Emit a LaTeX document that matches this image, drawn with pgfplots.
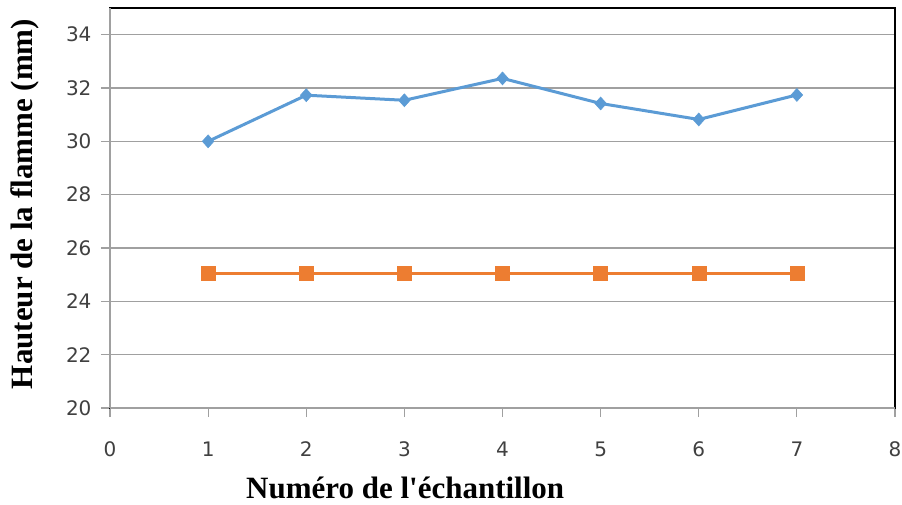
\documentclass[border=0pt]{standalone}
\usepackage{fontspec}
\newfontfamily\labelfont{Liberation Serif}
\newfontfamily\tickfont{DejaVu Sans}
\usepackage{pgfplots}
\pgfplotsset{compat=1.18}
\definecolor{exblue}{HTML}{5B9BD5}
\definecolor{exorange}{HTML}{ED7D31}
\definecolor{gridgray}{HTML}{A0A0A0}
\definecolor{ticktext}{HTML}{404040}
\begin{document}
\begin{tikzpicture}
\useasboundingbox (-110pt,-96pt) rectangle (792pt,408pt);
\begin{axis}[
  at={(0pt,0pt)}, anchor=south west,
  scale only axis,
  width=785pt, height=400pt,
  xmin=0, xmax=8, ymin=20, ymax=35,
  xtick={0,1,...,8}, ytick={20,22,...,34},
  ymajorgrids,
  grid style={gridgray, line width=1.1pt},
  axis line style={black, line width=1.4pt},
  tick align=outside,
  major tick length=9pt,
  tick style={gridgray, line width=1.1pt},
  xtick pos=bottom, ytick pos=left,
  /pgf/number format/assume math mode=true,
  ticklabel style={font=\tickfont\fontsize{20}{22}\selectfont, text=ticktext},
  xticklabel style={yshift=-21pt},
  yticklabel style={xshift=-6pt},
  xlabel={\labelfont\bfseries Numéro de l'échantillon},
  ylabel={\labelfont\bfseries Hauteur de la flamme (mm)},
  label style={font=\fontsize{31}{33}\selectfont, text=black},
  xlabel style={at={(axis description cs:0.376,-0.2)}, anchor=center},
  ylabel style={at={(axis description cs:-0.1083,0.51)}, anchor=center},
  clip=false,
]
\addplot[exblue, line width=3pt, mark=diamond*, mark size=6.5pt, mark options={fill=exblue, draw=exblue, line width=0.5pt, xscale=1.2}]
  coordinates {(1,30.0) (2,31.73) (3,31.54) (4,32.36) (5,31.42) (6,30.82) (7,31.74)};
\addplot[exorange, line width=3pt, mark=square*, mark size=7pt, mark options={fill=exorange, draw=exorange, line width=0.5pt}]
  coordinates {(1,25.06) (2,25.06) (3,25.06) (4,25.06) (5,25.06) (6,25.06) (7,25.06)};
\draw[gridgray, line width=1.4pt] (rel axis cs:0,0) -- (rel axis cs:0,1);
\draw[gridgray, line width=1.4pt] (rel axis cs:0,0) -- (rel axis cs:1,0);
\end{axis}
\end{tikzpicture}
\end{document}
